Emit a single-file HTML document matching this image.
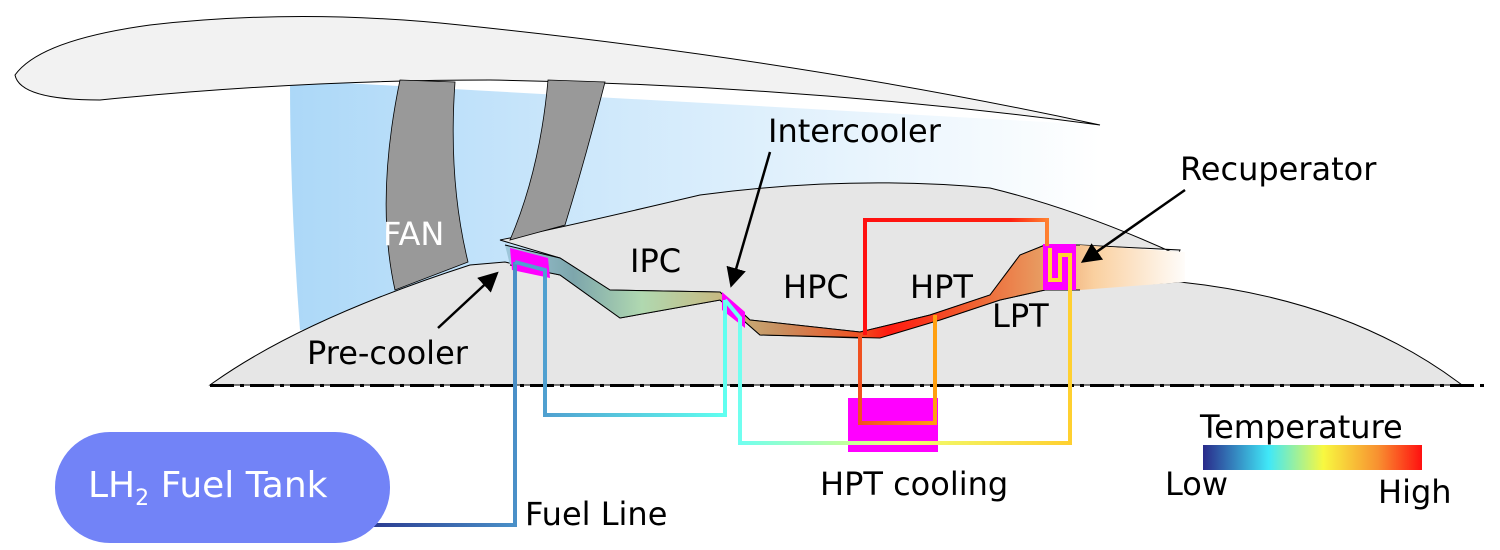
<!DOCTYPE html>
<html><head><meta charset="utf-8"><style>
html,body{margin:0;padding:0;background:#fff;}
svg{display:block;}
text{font-family:"DejaVu Sans","Liberation Sans",sans-serif;}
</style></head><body>
<svg id="svg" width="1500" height="550" viewBox="0 0 1500 550">
<defs>
<linearGradient id="bypass" x1="290" x2="1100" y1="0" y2="0" gradientUnits="userSpaceOnUse">
<stop offset="0" stop-color="#acd8f8"/><stop offset="0.4" stop-color="#d0e9fb"/><stop offset="1" stop-color="#ffffff"/></linearGradient>
<linearGradient id="gas" x1="505" x2="1190" y1="0" y2="0" gradientUnits="userSpaceOnUse">
<stop offset="0" stop-color="#9fc8dc"/><stop offset="0.1" stop-color="#7da6ac"/><stop offset="0.2" stop-color="#b0d8b0"/><stop offset="0.32" stop-color="#c8b880"/><stop offset="0.4" stop-color="#c89060"/><stop offset="0.52" stop-color="#f05020"/><stop offset="0.56" stop-color="#ff1a10"/><stop offset="0.68" stop-color="#f06030"/><stop offset="0.78" stop-color="#e89a60"/><stop offset="0.86" stop-color="#fad0a0"/><stop offset="1" stop-color="#fff"/></linearGradient>
<linearGradient id="cbar" x1="0" x2="1" y1="0" y2="0">
<stop offset="0" stop-color="#2a2a8a"/><stop offset="0.3" stop-color="#40e8f8"/><stop offset="0.55" stop-color="#f8f840"/><stop offset="0.8" stop-color="#f89030"/><stop offset="1" stop-color="#ff1010"/></linearGradient>
<linearGradient id="fuel" x1="370" x2="515" y1="0" y2="0" gradientUnits="userSpaceOnUse">
<stop offset="0" stop-color="#2a3a90"/><stop offset="1" stop-color="#4a90c8"/></linearGradient>
<linearGradient id="loop1" x1="545" x2="725" y1="0" y2="0" gradientUnits="userSpaceOnUse">
<stop offset="0" stop-color="#50a0d0"/><stop offset="1" stop-color="#60fff0"/></linearGradient>
<linearGradient id="loop2" x1="740" x2="1070" y1="0" y2="0" gradientUnits="userSpaceOnUse">
<stop offset="0" stop-color="#70fff0"/><stop offset="0.5" stop-color="#f0ff70"/><stop offset="1" stop-color="#ffd030"/></linearGradient>
<linearGradient id="loop3" x1="860" x2="935" y1="0" y2="0" gradientUnits="userSpaceOnUse">
<stop offset="0" stop-color="#f05020"/><stop offset="1" stop-color="#ffa010"/></linearGradient>
<linearGradient id="red" x1="865" x2="1047" y1="0" y2="0" gradientUnits="userSpaceOnUse">
<stop offset="0" stop-color="#ff1010"/><stop offset="0.8" stop-color="#ff2010"/><stop offset="1" stop-color="#ff8030"/></linearGradient>
<marker id="ah" markerWidth="8" markerHeight="8" refX="6" refY="4" orient="auto" markerUnits="strokeWidth"><path d="M0,0 L8,4 L0,8 z" fill="#000"/></marker>
</defs>
<path d="M290,80 L1100,125 L1180,255 L300,330 Q290,200 290,80 z" fill="url(#bypass)"/>
<path d="M210,385 Q300,320 470,265 L505,262 L560,275 L620,318 L720,300 L760,335 L860,338 L940,320 L1000,300 L1045,290 L1180,282 Q1350,300 1462,385 z" fill="#e6e6e6" stroke="#000" stroke-width="1"/>
<path d="M500,240 Q560,228 700,195 Q850,175 990,188 Q1080,210 1178,255 L1180,250 L1080,245 L1045,245 L1020,255 L990,295 L930,315 L860,332 L750,320 L720,292 L610,290 L560,258 z" fill="#e6e6e6" stroke="#000" stroke-width="1"/>
<path d="M505,245 L560,258 L610,290 L720,292 L750,320 L860,332 L930,315 L990,295 L1020,255 L1045,245 L1080,245 L1185,252 L1185,282 L1080,290 L1045,290 L1000,300 L940,320 L880,338 L760,335 L720,300 L620,318 L560,275 L510,265 z" fill="url(#gas)"/>
<path d="M505,245 L560,258 L610,290 L720,292 L750,320 L860,332 L930,315 L990,295 L1020,255 L1045,245 L1080,245 M510,265 L560,275 L620,318 L720,300 L760,335 L880,338 L940,320 L1000,300 L1045,290 L1080,290" fill="none" stroke="#000" stroke-width="1"/>
<path d="M15,75 Q40,40 150,25 Q300,8 460,25 Q800,60 1100,125 Q800,85 490,80 Q300,80 100,100 Q20,100 15,75 z" fill="#f2f2f2" stroke="#000" stroke-width="1"/>
<path d="M400,80 L455,82 Q448,180 468,262 L395,290 Q375,200 400,80 z" fill="#999" stroke="#000" stroke-width="0.8"/>
<path d="M548,80 L605,82 Q585,160 565,225 L510,240 Q540,170 548,80 z" fill="#999" stroke="#000" stroke-width="0.8"/>
<polygon points="510,248 548,258 550,278 512,270" fill="#ff00ff"/>
<polygon points="722,292 745,312 745,328 722,310" fill="#ff00ff"/>
<rect x="1043" y="244" width="33" height="46" fill="#ff00ff"/>
<rect x="848" y="398" width="90" height="54" fill="#ff00ff"/>
<g id="cl" fill="#000"></g>
<g fill="none" stroke-width="4">
<polyline points="370,525 515,525 515,262" stroke="url(#fuel)"/>
<polyline points="515,262 545,270 545,415 725,415 725,300" stroke="url(#loop1)"/>
<polyline points="725,300 740,318 740,443 1070,443 1070,255 1060,255 1060,280 1050,280 1050,248" stroke="url(#loop2)"/>
<polyline points="1047,246 1047,220 865,220 865,335" stroke="url(#red)"/>
<polyline points="860,335 860,423 935,423 935,315" stroke="url(#loop3)"/>
</g>
<rect x="55" y="432" width="335" height="111" rx="55" fill="#7283f7"/>
<text x="88" y="497" font-size="36" fill="#fff">LH<tspan font-size="22" dy="8">2</tspan><tspan dy="-8"> Fuel Tank</tspan></text>
<rect x="1203" y="445" width="219" height="25" fill="url(#cbar)"/>
<g font-size="32" fill="#000">
<text x="1200" y="438">Temperature</text>
<text x="1165" y="495">Low</text>
<text x="1378" y="503">High</text>
<text x="383" y="245" fill="#fff">FAN</text>
<text x="630" y="272">IPC</text>
<text x="783" y="298">HPC</text>
<text x="910" y="298">HPT</text>
<text x="992" y="327">LPT</text>
<text x="307" y="364">Pre-cooler</text>
<text x="768" y="142">Intercooler</text>
<text x="1180" y="180">Recuperator</text>
<text x="820" y="495">HPT cooling</text>
<text x="525" y="525">Fuel Line</text>
</g>
<g stroke="#000" stroke-width="2.5" marker-end="url(#ah)">
<line x1="438" y1="328" x2="495" y2="275"/>
<line x1="770" y1="152" x2="732" y2="283"/>
<line x1="1185" y1="190" x2="1085" y2="260"/>
</g>
</svg>
<script>
var g=document.getElementById('cl');
for(var x=210;x<1490;x+=40){
  var r=document.createElementNS('http://www.w3.org/2000/svg','rect');
  r.setAttribute('x',x);r.setAttribute('y',384);r.setAttribute('width',Math.min(24,1490-x));r.setAttribute('height',3);
  
  
  g.appendChild(r);
  if(x+32<1490){
  var d=document.createElementNS('http://www.w3.org/2000/svg','rect');
  d.setAttribute('x',x+30);d.setAttribute('y',384);d.setAttribute('width',4);d.setAttribute('height',3);
  
  
  g.appendChild(d);}
}
</script>
</body></html>
